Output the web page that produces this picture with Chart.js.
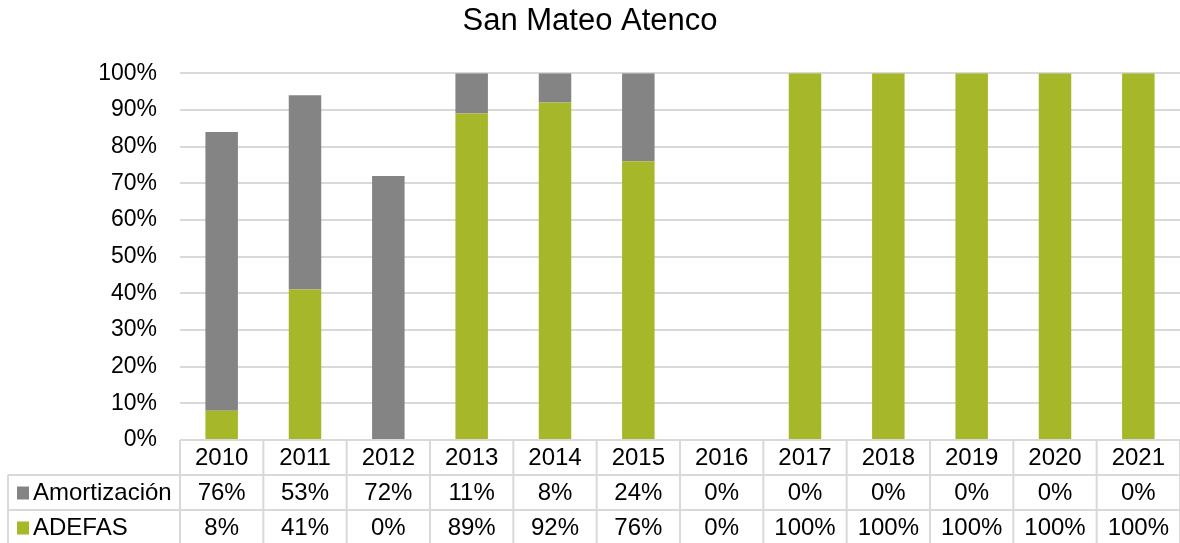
<!DOCTYPE html>
<html>
<head>
<meta charset="utf-8">
<script src="https://cdn.jsdelivr.net/npm/chart.js@4.4.1/dist/chart.umd.min.js"></script>
<style>
  html, body { margin: 0; padding: 0; background: #fff; }
  #wrap { width: 1180px; height: 543px; }
</style>
</head>
<body>
<div id="wrap"><canvas id="myChart" width="1180" height="543"></canvas></div>
<script>
const years = ['2010', '2011', '2012', '2013', '2014', '2015', '2016', '2017', '2018', '2019', '2020', '2021'];
const amortizacion = [76, 53, 72, 11, 8, 24, 0, 0, 0, 0, 0, 0];
const adefas = [8, 41, 0, 89, 92, 76, 0, 100, 100, 100, 100, 100];
const yTicks = [0, 10, 20, 30, 40, 50, 60, 70, 80, 90, 100];

const GRAY = '#848484';
const GREEN = '#a6b82a';
const LINE = '#d9d9d9';
const FONT = '"Liberation Sans", Arial, sans-serif';

// data table under the plot, columns follow the x scale
const tablePlugin = {
    id: 'dataTable',
    afterDraw(chart) {
        const c = chart.ctx;
        const xs = chart.scales.x;
        const area = chart.chartArea;
        const colW = (area.right - area.left) / years.length;
        const top = area.bottom;
        const rowH = 35;
        const leftEdge = 8;
        const bottom = chart.height;

        c.save();
        c.strokeStyle = LINE;
        c.lineWidth = 2;
        c.beginPath();
        c.moveTo(area.left, top); c.lineTo(area.right, top);
        c.moveTo(leftEdge, top + rowH); c.lineTo(area.right, top + rowH);
        c.moveTo(leftEdge, top + rowH * 2); c.lineTo(area.right, top + rowH * 2);
        c.moveTo(leftEdge, top + rowH); c.lineTo(leftEdge, bottom);
        for (let i = 0; i <= years.length; i++) {
            const x = area.left + i * colW;
            c.moveTo(x, top); c.lineTo(x, bottom);
        }
        c.stroke();

        c.fillStyle = '#000';
        c.font = '24px ' + FONT;
        c.textAlign = 'center';
        c.textBaseline = 'middle';
        const rows = [years, amortizacion.map(v => v + '%'), adefas.map(v => v + '%')];
        rows.forEach((row, r) => {
            const y = top + rowH * r + rowH / 2 + 1;
            row.forEach((txt, i) => {
                c.fillText(txt, xs.getPixelForValue(i), y);
            });
        });

        // row labels with legend keys
        const labels = [['Amortización', GRAY], ['ADEFAS', GREEN]];
        c.textAlign = 'left';
        labels.forEach(([txt, col], r) => {
            const y = top + rowH * (r + 1) + rowH / 2 + 1;
            c.fillStyle = col;
            c.fillRect(17, y - 7, 12, 13);
            c.fillStyle = '#000';
            c.fillText(txt, 33, y);
        });
        c.restore();
    }
};

const ctx = document.getElementById('myChart').getContext('2d');
const myChart = new Chart(ctx, {
    type: 'bar',
    data: {
        labels: years,
        datasets: [
            {
                label: 'ADEFAS',
                data: adefas,
                backgroundColor: GREEN,
                barPercentage: 0.39,
                categoryPercentage: 1
            },
            {
                label: 'Amortización',
                data: amortizacion,
                backgroundColor: GRAY,
                barPercentage: 0.39,
                categoryPercentage: 1
            }
        ]
    },
    options: {
        responsive: false,
        animation: false,
        layout: { padding: { left: 0, right: 0, top: 0, bottom: 103 } },
        plugins: {
            legend: { display: false },
            tooltip: { enabled: false },
            title: {
                display: true,
                text: 'San Mateo Atenco',
                color: '#000',
                font: { family: FONT, size: 31, weight: 'normal' },
                padding: { top: 3, bottom: 33 }
            }
        },
        scales: {
            x: {
                stacked: true,
                display: false
            },
            y: {
                stacked: true,
                min: 0,
                max: 100,
                afterFit(scale) { scale.width = 180; },
                afterBuildTicks(scale) { scale.ticks = yTicks.map(v => ({ value: v })); },
                border: { display: false },
                grid: { color: LINE, lineWidth: 2, drawTicks: false },
                ticks: {
                    color: '#000',
                    padding: 23,
                    font: { family: FONT, size: 23 },
                    callback: v => v + '%'
                }
            }
        }
    },
    plugins: [tablePlugin]
});
</script>
</body>
</html>
